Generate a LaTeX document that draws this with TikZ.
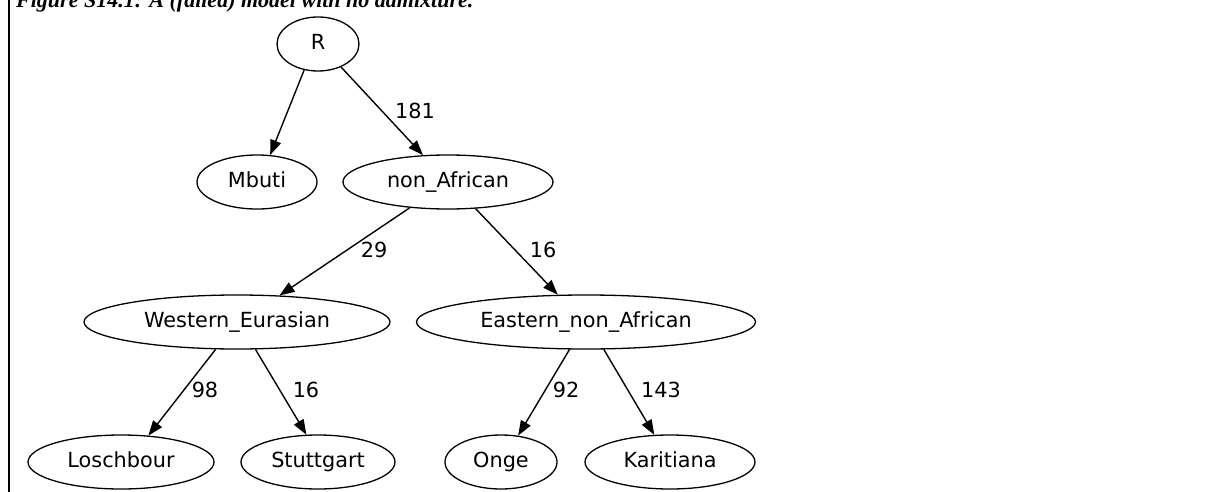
\documentclass[tikz,border=0pt]{standalone}
\usepackage{fontspec}
\newfontfamily\graphfont{DejaVu Sans}
\newfontfamily\capfont{Liberation Serif}
\usetikzlibrary{shapes.geometric,arrows.meta}
\begin{document}
\begin{tikzpicture}[x=1pt,y=-1pt,
  pop/.style={ellipse,draw,line width=1.3pt,inner sep=0pt,minimum height=54pt,
    text height=15pt,text depth=4pt,
    font=\graphfont\fontsize{20.8}{25}\selectfont},
  lbl/.style={inner sep=0pt,font=\graphfont\fontsize{20.8}{25}\selectfont},
  tree/.style={line width=1.4pt,-{Triangle[length=15pt,width=11pt]}}]
\clip (0,0) rectangle (1230,492);
\fill[white] (0,0) rectangle (1230,492);
% frame and caption
\draw[line width=2pt] (8.5,0) -- (8.5,492);
\node[anchor=base west,inner sep=0pt,font=\capfont\bfseries\itshape\fontsize{22}{26}\selectfont] (cap) at (16,8)
  {Figure S14.1: A (failed) model with no admixture.};
% populations
\node[pop,minimum width=82pt]  (R)    at (318,44)  {R};
\node[pop,minimum width=120pt] (Mbuti) at (257,182) {Mbuti};
\node[pop,minimum width=210pt] (nonA) at (448,182) {non\_African};
\node[pop,minimum width=306pt] (WE)   at (237,322) {Western\_Eurasian};
\node[pop,minimum width=339pt] (ENA)  at (586,322) {Eastern\_non\_African};
\node[pop,minimum width=186pt] (Lo)   at (121,462) {Loschbour};
\node[pop,minimum width=154pt] (St)   at (318,462) {Stuttgart};
\node[pop,minimum width=112pt] (On)   at (501,462) {Onge};
\node[pop,minimum width=170pt] (Ka)   at (670,462) {Karitiana};
% drift edges
\draw[tree] (R.242) -- (Mbuti.64);
\draw[tree] (R.315) -- (nonA.133);
\draw[tree] (nonA.214) -- (WE.32);
\draw[tree] (nonA.316) -- (ENA.136);
\draw[tree] (WE.232) -- (Lo.44);
\draw[tree] (WE.304) -- (St.113);
\draw[tree] (ENA.239) -- (On.57);
\draw[tree] (ENA.303) -- (Ka.120);
% edge lengths
\node[lbl] (l181) at (415,111) {181};
\node[lbl] (l29)  at (374,250) {29};
\node[lbl] (l16a) at (543,250) {16};
\node[lbl] (l98)  at (205,390) {98};
\node[lbl] (l16b) at (306,390) {16};
\node[lbl] (l92)  at (566,390) {92};
\node[lbl] (l143) at (661,390) {143};
\end{tikzpicture}
\end{document}
